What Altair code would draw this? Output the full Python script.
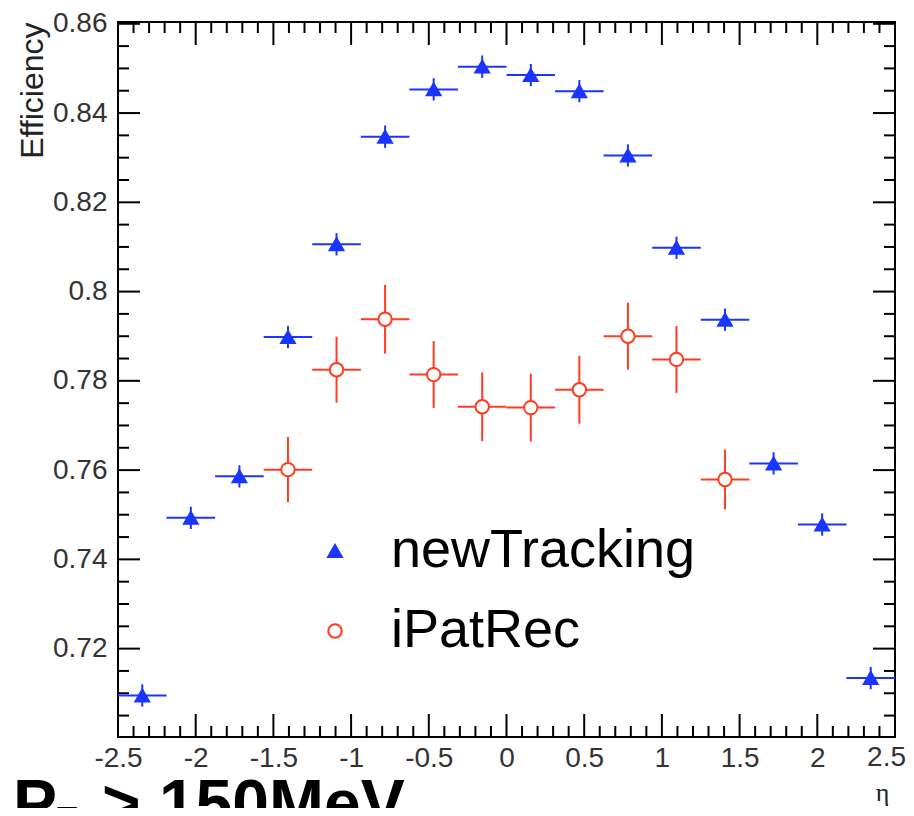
import altair as alt
import pandas as pd

# ---------------- data ----------------
series = ["newTracking", "iPatRec"]

eta_new = [-2.34375, -2.03125, -1.71875, -1.40625, -1.09375, -0.78125, -0.46875, -0.15625,
           0.15625, 0.46875, 0.78125, 1.09375, 1.40625, 1.71875, 2.03125, 2.34375]
eff_new = [0.7095, 0.7493, 0.7586, 0.7898, 0.8106, 0.8347, 0.8453, 0.8504,
           0.8485, 0.8449, 0.8305, 0.8098, 0.7937, 0.7615, 0.7478, 0.7134]
err_new = [0.0025, 0.0025, 0.0025, 0.0025, 0.0025, 0.0025, 0.0025, 0.0025,
           0.0025, 0.0025, 0.0025, 0.0025, 0.0025, 0.0025, 0.0025, 0.0025]

eta_ipat = [-1.40625, -1.09375, -0.78125, -0.46875, -0.15625,
            0.15625, 0.46875, 0.78125, 1.09375, 1.40625]
eff_ipat = [0.7601, 0.7825, 0.7938, 0.7814, 0.7742,
            0.7740, 0.7780, 0.7900, 0.7848, 0.7579]
err_ipat = [0.0073, 0.0074, 0.0077, 0.0075, 0.0077,
            0.0076, 0.0076, 0.0075, 0.0075, 0.0067]

BIN_HALF = 0.15625

x_major = [-2.5, -2, -1.5, -1, -0.5, 0, 0.5, 1, 1.5, 2, 2.5]
x_labels = [-2.5, -2, -1.5, -1, -0.5, 0, 0.5, 1, 1.5, 2]
x_last_label = "2.5"
x_minor = [round(-2.5 + 0.1 * i, 1) for i in range(51) if i % 5 != 0]
y_major = [0.72, 0.74, 0.76, 0.78, 0.8, 0.82, 0.84, 0.86]
y_minor = [round(0.705 + 0.005 * i, 3) for i in range(31) if i % 4 != 3]

# ---------------- styles ----------------
BLUE = "#1a35ff"
RED = "#ff3b20"
colors = [BLUE, RED]
fills = [BLUE, "white"]
shapes = ["triangle-up", "circle"]
sizes = [190, 180]

W, H = 777, 715
xs = alt.Scale(domain=[-2.5, 2.5], nice=False, zero=False)
ys = alt.Scale(domain=[0.7002, 0.8604], nice=False, zero=False)


def frame(eta, eff, err, name):
    df = pd.DataFrame({"eta": eta, "eff": eff, "err": err})
    df["series"] = name
    df["xlo"] = df["eta"] - BIN_HALF
    df["xhi"] = df["eta"] + BIN_HALF
    df["ylo"] = df["eff"] - df["err"]
    df["yhi"] = df["eff"] + df["err"]
    return df


df_new = frame(eta_new, eff_new, err_new, series[0])
df_ipat = frame(eta_ipat, eff_ipat, err_ipat, series[1])


def errbars(df, color):
    h = alt.Chart(df).mark_rule(color=color, strokeWidth=2).encode(
        x=alt.X("xlo:Q", scale=xs), x2="xhi:Q", y=alt.Y("eff:Q", scale=ys))
    v = alt.Chart(df).mark_rule(color=color, strokeWidth=2).encode(
        x=alt.X("eta:Q", scale=xs), y=alt.Y("ylo:Q", scale=ys), y2="yhi:Q")
    return [h, v]


LABEL_FONT = "Liberation Sans"
LABEL_SIZE = 28
LABEL_COLOR = "#333333"

xaxis = alt.Axis(values=x_labels, labelExpr="'' + datum.value", grid=False, ticks=False,
                 tickSize=0, domain=False, labelFont=LABEL_FONT, labelFontSize=LABEL_SIZE,
                 labelColor=LABEL_COLOR, labelPadding=7, labelFlush=False, labelOverlap=False,
                 title="η", titleFont="Liberation Serif", titleFontSize=26,
                 titleFontWeight="normal", titleColor="#222222", titleX=764, titleY=63,
                 titleAlign="center", titleBaseline="alphabetic")
yaxis = alt.Axis(values=y_major, labelExpr="'' + datum.value", grid=False, ticks=False,
                 tickSize=0, domain=False, labelFont=LABEL_FONT, labelFontSize=LABEL_SIZE,
                 labelColor=LABEL_COLOR, labelPadding=11, labelFlush=False, labelOverlap=False,
                 title="Efficiency", titleFont="Liberation Sans", titleFontSize=32,
                 titleFontWeight="normal", titleColor="#222222", titleAngle=270,
                 titleAlign="right", titleBaseline="alphabetic", titleX=-76, titleY=0)

leg = alt.Legend(title=None, orient="none", legendX=190, legendY=502, labelFontSize=54,
                 labelFont="Liberation Sans", labelColor="black", labelLimit=800,
                 rowPadding=26, labelOffset=29, symbolStrokeWidth=2, padding=0)

points = alt.Chart(pd.concat([df_new, df_ipat])).mark_point(
    filled=False, opacity=1, strokeWidth=2).encode(
    x=alt.X("eta:Q", scale=xs, axis=xaxis),
    y=alt.Y("eff:Q", scale=ys, axis=yaxis),
    shape=alt.Shape("series:N", scale=alt.Scale(domain=series, range=shapes), legend=leg),
    color=alt.Color("series:N", scale=alt.Scale(domain=series, range=colors), legend=leg),
    fill=alt.Fill("series:N", scale=alt.Scale(domain=series, range=fills), legend=leg),
    size=alt.Size("series:N", scale=alt.Scale(domain=series, range=sizes), legend=leg),
)


def xticks(vals, y0, y1):
    return alt.Chart(pd.DataFrame({"v": vals})).mark_rule(color="black", strokeWidth=2).encode(
        x=alt.X("v:Q", scale=xs), y=alt.value(y0), y2=alt.value(y1))


def yticks(vals, x0, x1):
    return alt.Chart(pd.DataFrame({"v": vals})).mark_rule(color="black", strokeWidth=2).encode(
        y=alt.Y("v:Q", scale=ys), x=alt.value(x0), x2=alt.value(x1))


tick_layers = [
    xticks(x_major, H, H - 23), xticks(x_minor, H, H - 11),
    xticks(x_major, 0, 23), xticks(x_minor, 0, 11),
    yticks(y_major, 0, 22), yticks(y_minor, 0, 11),
    yticks(y_major, W, W - 22), yticks(y_minor, W, W - 11),
]

# last x tick label, kept inside the page edge
last_label = alt.Chart(pd.DataFrame({"t": [x_last_label]})).mark_text(
    font=LABEL_FONT, fontSize=LABEL_SIZE, color=LABEL_COLOR, align="right",
    baseline="top").encode(text="t:N", x=alt.value(W + 11), y=alt.value(H + 7))


def label(txt, x, y, size):
    return alt.Chart(pd.DataFrame({"t": [txt]})).mark_text(
        font="Liberation Sans", fontWeight="bold", fontSize=size, align="left",
        baseline="alphabetic", color="black").encode(
        text="t:N", x=alt.value(x), y=alt.value(y))


texts = [label("P", -105, 804, 66), label("T", -61, 808, 33), label("> 150MeV", -16, 804, 66)]

chart = alt.layer(
    *tick_layers,
    *errbars(df_new, BLUE),
    *errbars(df_ipat, RED),
    points,
    last_label,
    *texts,
).properties(
    width=W, height=H,
    autosize=alt.AutoSizeParams(type="none"),
    padding={"left": 110, "top": 14, "right": 11, "bottom": 71},
).configure_view(stroke="black", strokeWidth=2)

chart.save("out.html", embed_options={"renderer": "svg", "actions": False})
